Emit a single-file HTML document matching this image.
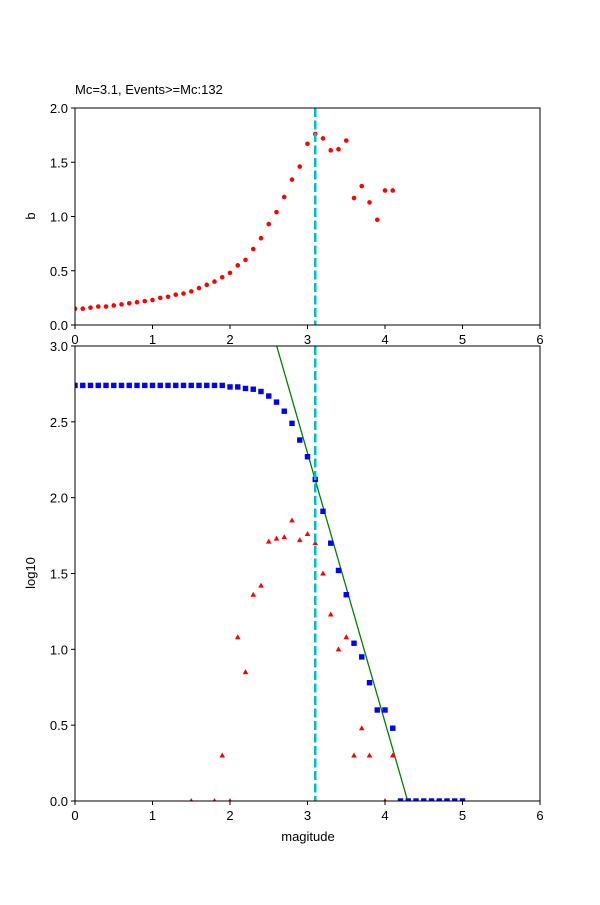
<!DOCTYPE html>
<html><head><meta charset="utf-8"><style>
body{margin:0;background:#fff;}
svg text{font-family:"Liberation Sans","DejaVu Sans",sans-serif;font-size:13px;fill:#000;}
</style></head><body>
<svg id="s" width="600" height="900" xmlns="http://www.w3.org/2000/svg">
<defs>
<clipPath id="ct"><rect x="75" y="108" width="465" height="217"/></clipPath>
<clipPath id="cb"><rect x="75" y="346" width="465" height="455"/></clipPath>
</defs>
<rect width="600" height="900" fill="#fff"/>
<g id="t" clip-path="url(#ct)"></g>
<g id="b" clip-path="url(#cb)"></g>
<g id="g"></g>
</svg>
<script>
const NS="http://www.w3.org/2000/svg";
const G={t:document.getElementById('t'),b:document.getElementById('b'),g:document.getElementById('g')};
function el(p,t,a,txt){const e=document.createElementNS(NS,t);for(const k in a)e.setAttribute(k,a[k]);if(txt!==undefined)e.textContent=txt;G[p].appendChild(e);return e;}
const X=m=>75+m*77.5;
const Yt=v=>325-v*108.5;
const Yb=v=>801-v*151.67;
const b=[0.15,0.15,0.16,0.17,0.17,0.18,0.19,0.20,0.21,0.22,0.23,0.25,0.26,0.28,0.29,0.31,0.34,0.37,0.40,0.44,0.48,0.55,0.60,0.70,0.80,0.93,1.04,1.18,1.34,1.46,1.67,1.76,1.72,1.61,1.62,1.70,1.17,1.28,1.13,0.97,1.24,1.24];
b.forEach((v,i)=>el('t','circle',{cx:X(i/10),cy:Yt(v),r:2.3,fill:'#f00'}));
el('t','line',{x1:X(3.1),y1:108,x2:X(3.1),y2:325,stroke:'#00bfbf','stroke-width':2.5,'stroke-dasharray':'9,3.5'});
el('b','line',{x1:276.7,y1:346,x2:407.7,y2:801,stroke:'#008000','stroke-width':1.3});
const blue=[];for(let i=0;i<20;i++)blue.push(2.74);
blue.push(2.73,2.73,2.72,2.715,2.70,2.67,2.63,2.57,2.49,2.38,2.27,2.12,1.91,1.70,1.52,1.36,1.04,0.95,0.78,0.60,0.60,0.48);
for(let i=0;i<9;i++)blue.push(0);
blue.forEach((v,i)=>{const x=X(i/10),y=Yb(v);el('b','rect',{x:x-2.7,y:y-2.7,width:5.4,height:5.4,fill:'#00f'});});
const red=[[1.5,0],[1.8,0],[1.9,0.30],[2.0,0],[2.1,1.08],[2.2,0.85],[2.3,1.36],[2.4,1.42],[2.5,1.71],[2.6,1.73],[2.7,1.74],[2.8,1.85],[2.9,1.72],[3.0,1.76],[3.1,1.70],[3.2,1.50],[3.3,1.23],[3.4,1.00],[3.5,1.08],[3.6,0.30],[3.7,0.48],[3.8,0.30],[4.0,0],[4.1,0.30]];
red.forEach(([m,v])=>{const x=X(m),y=Yb(v);el('b','polygon',{points:`${x},${y-3} ${x-2.8},${y+2} ${x+2.8},${y+2}`,fill:'#f00'});});
el('b','line',{x1:X(3.1),y1:346,x2:X(3.1),y2:801,stroke:'#00bfbf','stroke-width':2.5,'stroke-dasharray':'9,3.5'});
el('g','rect',{x:75,y:108,width:465,height:217,fill:'none',stroke:'#000','stroke-width':1});
el('g','rect',{x:75,y:346,width:465,height:455,fill:'none',stroke:'#000','stroke-width':1});
for(let m=0;m<=6;m++){
 el('g','line',{x1:X(m),y1:325,x2:X(m),y2:329,stroke:'#000'});
 el('g','text',{x:X(m),y:344,'text-anchor':'middle'},String(m));
 el('g','line',{x1:X(m),y1:801,x2:X(m),y2:805,stroke:'#000'});
 el('g','text',{x:X(m),y:820,'text-anchor':'middle'},String(m));
}
for(let i=0;i<=4;i++){const v=i*0.5;
 el('g','line',{x1:71,y1:Yt(v),x2:75,y2:Yt(v),stroke:'#000'});
 el('g','text',{x:68,y:Yt(v)+5,'text-anchor':'end'},v.toFixed(1));}
for(let i=0;i<=6;i++){const v=i*0.5;
 el('g','line',{x1:71,y1:Yb(v),x2:75,y2:Yb(v),stroke:'#000'});
 el('g','text',{x:68,y:Yb(v)+5,'text-anchor':'end'},v.toFixed(1));}
el('g','text',{x:75,y:94},'Mc=3.1, Events>=Mc:132');
el('g','text',{x:35,y:216,transform:'rotate(-90 35 216)','text-anchor':'middle'},'b');
el('g','text',{x:35,y:573,transform:'rotate(-90 35 573)','text-anchor':'middle'},'log10');
el('g','text',{x:308,y:841,'text-anchor':'middle'},'magitude');
</script>
</body></html>
